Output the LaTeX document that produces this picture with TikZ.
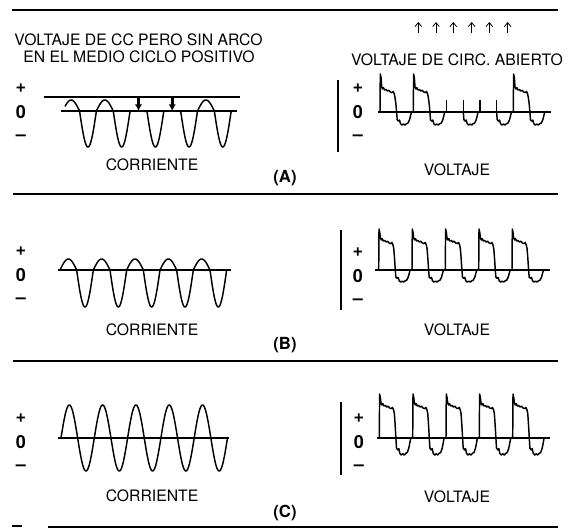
\documentclass[tikz,border=0pt]{standalone}
\usepackage{fontspec}
\setmainfont{TeX Gyre Heros}
\usetikzlibrary{arrows.meta}

\tikzset{
  rule/.style={line width=1.6pt},
  wave/.style={line width=1.1pt,line join=round},
  axis/.style={line width=1pt},
  lbl/.style={font=\fontsize{11.8}{13.5}\selectfont,inner sep=0pt},
  sign/.style={font=\bfseries\fontsize{13.5}{15}\selectfont,inner sep=0pt},
  tag/.style={font=\bfseries\fontsize{12.5}{14}\selectfont,inner sep=0pt},
}

% positive part of one voltage pulse: rise x, zero y, spike, plateau
\newcommand{\pulsetop}[4]{%
  \draw[wave] (#1,#2) -- (#1+0.3,#2-#3) -- (#1+1.1,#2-#3+4) -- (#1+1.7,#2-#4-5)
    -- (#1+2.6,#2-#4-3) -- (#1+3.4,#2-#4-4.5) -- (#1+4.6,#2-#4-2) -- (#1+6,#2-#4-2.5)
    -- (#1+7.4,#2-#4-1) -- (#1+8.8,#2-#4-1.8) -- (#1+10.4,#2-#4) -- (#1+12,#2-#4+0.6)
    -- (#1+13.2,#2-#4-0.6) -- (#1+14.3,#2-#4+2) -- (#1+15.1,#2-#4+6)
    -- (#1+15.9,#2-0.4*#4) -- (#1+16.6,#2);}
% negative part: start x, zero y, depth
\newcommand{\pulsebot}[3]{%
  \draw[wave] (#1,#2) -- (#1+0.6,#2+0.6*#3) -- (#1+1.9,#2+0.7*#3) -- (#1+2.9,#2+0.62*#3)
    -- (#1+3.9,#2+0.9*#3) -- (#1+5.4,#2+#3) -- (#1+6.9,#2+0.93*#3) -- (#1+8.4,#2+#3)
    -- (#1+9.9,#2+0.9*#3) -- (#1+11.4,#2+0.85*#3) -- (#1+12.9,#2+0.6*#3)
    -- (#1+14.2,#2+0.2*#3) -- (#1+14.9,#2);}
% small tick instead of a pulse
\newcommand{\pulsetick}[3]{%
  \draw[wave,line width=0.8pt] (#1,#2) -- (#1,#2-#3);}

\begin{document}
\begin{tikzpicture}[x=0.75pt,y=-0.75pt,>=latex,
  declare function={cw(\t,\o,\w,\hp,\hn)=ifthenelse(sin((\t-\o)/\w*360)>0,\hp,\hn)*sin((\t-\o)/\w*360);}]
  \useasboundingbox (0,0) rectangle (568,529);

  % separators
  \draw[rule] (12,10) -- (558,10);
  \draw[rule] (13,194) -- (558,194);
  \draw[rule] (13,361) -- (558,361);
  \draw[rule] (48,527) -- (558,527);
  \draw[rule] (12,526) -- (22,526);

  % +, 0, - marks
  \foreach \x/\y/\n in {21/112/AL,358/112/AR,21/275/BL,358/276/BR,21/442/CL,359/442/CR} {
    \node[sign] (plus\n) at (\x,\y-24) {+};
    \node[sign] (zero\n) at (\x,\y) {0};
    \node[sign] (minus\n) at (\x,\y+26) {--};
  }

  % ---------- (A)
  \node[lbl] (noarc1) at (138.5,40) {VOLTAJE DE CC PERO SIN ARCO};
  \node[lbl] (noarc2) at (139,57) {EN EL MEDIO CICLO POSITIVO};
  \draw[axis] (44,97) -- (240,97);
  \draw[axis] (61,111) -- (237,111);
  \draw[wave] plot[domain=65:130.1,samples=140] (\x,{111-cw(\x,62.7,33.7,11,36)})
    -- plot[domain=147:163.8,samples=40] (\x,{111-cw(\x,62.7,33.7,11,36)})
    -- plot[domain=180.6:231.2,samples=110] (\x,{111-cw(\x,62.7,33.7,11,36)});
  \foreach \i/\x in {1/138.5,2/172.2} {
    \coordinate (dc\i) at (\x,97);
    \coordinate (zc\i) at (\x,111);
    \draw[-{Latex[length=5pt,width=5.5pt]},line width=2.2pt] (dc\i) -- (zc\i);
  }
  \node[lbl] (curA) at (152,165) {CORRIENTE};

  \foreach \i/\x in {1/418.3,2/436,3/453.3,4/471.7,5/489.3,6/507.7} {
    \coordinate (ua\i) at (\x,33.3);
    \coordinate (ub\i) at (\x,22);
    \draw[-{Straight Barb[length=3pt,width=5pt]},line width=0.6pt] (ua\i) -- (ub\i);
  }
  \node[lbl] (opencirc) at (457,60) {VOLTAJE DE CIRC. ABIERTO};
  \draw[axis] (338,80) -- (338,152);
  \draw[axis] (378,112) -- (551,112);
  \pulsetop{380}{112}{38}{20} \pulsebot{396.6}{112}{13}
  \pulsetop{413.3}{112}{38}{20} \pulsebot{429.9}{112}{13}
  \pulsetick{446.7}{112}{12} \pulsetick{463.3}{112}{12} \pulsebot{463.3}{112}{13}
  \pulsetick{480}{112}{12} \pulsetick{496.6}{112}{12} \pulsebot{496.6}{112}{13}
  \pulsetop{513.3}{112}{38}{20} \pulsebot{529.9}{112}{13}
  \node[lbl] (voltA) at (457,170) {VOLTAJE};
  \node[tag] (tagA) at (285,178) {(A)};

  % ---------- (B)
  \draw[axis] (58,270) -- (231,270);
  \draw[wave] plot[domain=60:226.6,samples=300] (\x,{270-cw(\x,60,33.33,11,37)});
  \node[lbl] (curB) at (152,330) {CORRIENTE};
  \draw[axis] (341,230) -- (341,310);
  \draw[axis] (375,270) -- (550,270);
  \foreach \a in {378.7,412,445.3,478.7,512} {
    \pulsetop{\a}{270}{41}{27} \pulsebot{\a+16.6}{270}{12}
  }
  \node[lbl] (voltB) at (457,330) {VOLTAJE};
  \node[tag] (tagB) at (285,345) {(B)};

  % ---------- (C)
  \draw[axis] (58,438) -- (229,438);
  \draw[wave] plot[domain=61:227.5,samples=300] (\x,{438-33*sin((\x-61)/33.3*360)});
  \node[lbl] (curC) at (152,496) {CORRIENTE};
  \draw[axis] (341,402) -- (341,475);
  \draw[axis] (377,438) -- (550,438);
  \foreach \a in {379.3,412.7,446,479.3,512.7} {
    \pulsetop{\a}{438}{44}{30} \pulsebot{\a+16.6}{438}{17}
  }
  \node[lbl] (voltC) at (457,497) {VOLTAJE};
  \node[tag] (tagC) at (285,513) {(C)};
\end{tikzpicture}
\end{document}
